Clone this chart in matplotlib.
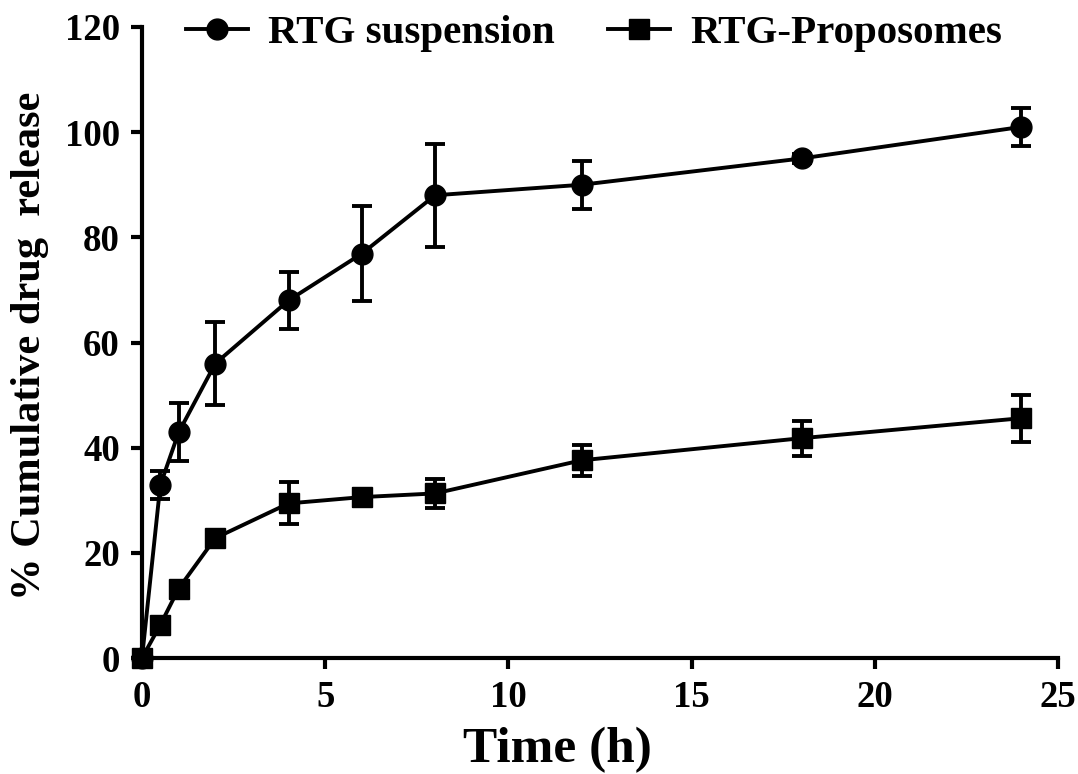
import matplotlib
matplotlib.use("Agg")
import matplotlib.pyplot as plt

time_h = [0, 0.5, 1, 2, 4, 6, 8, 12, 18, 24]
susp_mean = [0, 32.9, 42.9, 56.0, 68.0, 76.9, 88.0, 90.0, 95.0, 101.0]
susp_err = [0, 2.6, 5.5, 7.9, 5.4, 9.0, 9.8, 4.6, 0.8, 3.6]
prop_mean = [0, 6.3, 13.2, 22.8, 29.4, 30.6, 31.3, 37.6, 41.8, 45.6]
prop_err = [0, 0.8, 1.2, 1.2, 4.0, 1.6, 2.8, 3.0, 3.3, 4.5]

labels = ["RTG suspension", "RTG-Proposomes"]
xticks = [0, 5, 10, 15, 20, 25]
yticks = [0, 20, 40, 60, 80, 100, 120]

plt.rcParams['font.family'] = ['Liberation Serif', 'DejaVu Serif']
plt.rcParams['font.weight'] = 'bold'

fig = plt.figure(figsize=(10.78, 7.74), dpi=100)
ax = fig.add_axes([142/1078, 1-658/774, (1058-142)/1078, (658-27)/774])

lw = 2.8
for y, e, m, lab, ms in [(susp_mean, susp_err, 'o', labels[0], 15),
                         (prop_mean, prop_err, 's', labels[1], 14)]:
    ax.errorbar(time_h, y, yerr=e, fmt='none', ecolor='black', elinewidth=2.8,
                capsize=7.5, capthick=2.8, clip_on=False, zorder=3)
    ax.plot(time_h, y, color='black', lw=lw, marker=m, markersize=ms,
            label=lab, clip_on=False, zorder=4)

ax.set_xlim(0, 25)
ax.set_ylim(0, 120)
ax.set_xticks(xticks)
ax.set_yticks(yticks)
for s in ['top', 'right']:
    ax.spines[s].set_visible(False)
for s in ['left', 'bottom']:
    ax.spines[s].set_linewidth(3)
ax.tick_params(axis='both', width=3, length=8, labelsize=26.5, direction='out')
ax.tick_params(axis='x', pad=8)
ax.tick_params(axis='y', pad=8)
for t in ax.get_xticklabels() + ax.get_yticklabels():
    t.set_fontweight('bold')

ax.set_xlabel("Time (h)", fontsize=37, fontweight='bold')
ax.xaxis.set_label_coords((557-142)/(1058-142), -(750-658)/(658-27), transform=ax.transAxes)
ax.xaxis.label.set_va('center')
ax.set_ylabel("% Cumulative drug  release", fontsize=30.5, fontweight='bold')
ax.yaxis.set_label_coords(-(142-30)/(1058-142), (658-346)/(658-27), transform=ax.transAxes)
ax.yaxis.label.set_va('center')

fig.legend(loc='center', bbox_to_anchor=(594/1078, 1-33/774), ncol=2, frameon=False,
           prop={'size': 29.5, 'weight': 'bold'}, handlelength=1.5, handletextpad=0.5,
           columnspacing=1.3, borderpad=0, borderaxespad=0)

fig.savefig("out.png", dpi=100)
